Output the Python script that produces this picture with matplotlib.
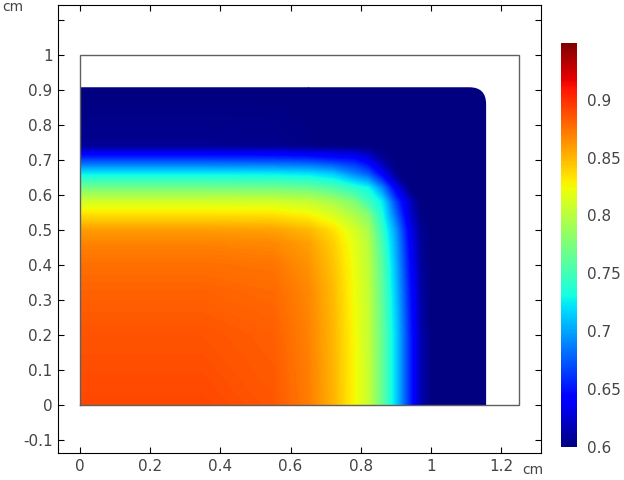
import numpy as np
import matplotlib
matplotlib.use('Agg')
import matplotlib.pyplot as plt
from matplotlib.cm import ScalarMappable
from matplotlib.colors import Normalize
from matplotlib.patches import PathPatch
from matplotlib.path import Path

# grid nodes, denser where the colours change fast
grid_x = [0, .35, .55, .65, .72, .78, .82, .86, .90, .94, .97, 1.0, 1.157]
grid_y = [0, .2, .32, .40, .46, .50, .54, .58, .62, .66, .70, .74, .908]

# field value per node, one row per grid_y
field = [
    [.891, .891, .885, .871, .851, .826, .806, .765, .715, .655, .615, .600, .600],
    [.886, .886, .882, .869, .850, .825, .805, .765, .715, .655, .615, .600, .600],
    [.881, .881, .878, .867, .848, .823, .804, .762, .710, .650, .612, .600, .600],
    [.876, .876, .874, .863, .845, .821, .802, .760, .705, .645, .610, .600, .600],
    [.869, .869, .867, .858, .841, .818, .799, .752, .700, .640, .608, .600, .600],
    [.859, .859, .857, .849, .834, .812, .793, .745, .695, .635, .607, .600, .600],
    [.836, .836, .835, .828, .815, .796, .779, .735, .680, .625, .603, .600, .600],
    [.811, .811, .810, .805, .793, .776, .750, .725, .665, .620, .600, .600, .600],
    [.771, .771, .770, .766, .756, .741, .730, .690, .635, .600, .600, .600, .600],
    [.726, .726, .725, .722, .713, .690, .675, .640, .605, .600, .600, .600, .600],
    [.666, .666, .665, .662, .655, .650, .635, .610, .600, .600, .600, .600, .600],
    [.606, .606, .605, .602, .600, .600, .600, .600, .600, .600, .600, .600, .600],
    [.600, .600, .600, .600, .600, .600, .600, .600, .600, .600, .600, .600, .600],
]

x_ticks = [0, 0.2, 0.4, 0.6, 0.8, 1, 1.2]
x_labels = ['0', '0.2', '0.4', '0.6', '0.8', '1', '1.2']
y_ticks = [-0.1, 0, 0.1, 0.2, 0.3, 0.4, 0.5, 0.6, 0.7, 0.8, 0.9, 1, 1.1]
y_labels = ['-0.1', '0', '0.1', '0.2', '0.3', '0.4', '0.5', '0.6', '0.7', '0.8', '0.9', '1', '']
bar_ticks = [0.6, 0.65, 0.7, 0.75, 0.8, 0.85, 0.9]
bar_labels = ['0.6', '0.65', '0.7', '0.75', '0.8', '0.85', '0.9']
v_min = 0.6
v_max = 0.949

W, H = 624, 480
txt = '#444444'

fig = plt.figure(figsize=(W / 100, H / 100), dpi=100)
ax = fig.add_axes([58 / W, 1 - 453 / H, (541 - 58) / W, (453 - 5) / H])
ax.set_xlim(-0.0627, 1.3134)
ax.set_ylim(-0.137, 1.143)

norm = Normalize(v_min, v_max)
levels = np.linspace(v_min, v_max, 256)
cs = ax.contourf(grid_x, grid_y, field, levels=levels, cmap='jet', norm=norm,
                 extend='both', antialiased=False)

# the domain has one rounded corner, top right
r, cx, cy = 0.048, grid_x[-1], grid_y[-1]
verts = [(0, 0), (cx, 0), (cx, cy - r), (cx, cy), (cx - r, cy), (0, cy), (0, 0)]
codes = [Path.MOVETO, Path.LINETO, Path.LINETO, Path.CURVE3, Path.CURVE3, Path.LINETO, Path.CLOSEPOLY]
clip = PathPatch(Path(verts, codes), transform=ax.transData, fc='none', ec='none')
ax.add_patch(clip)
cs.set_clip_path(clip)

# outer rectangle of the geometry
ax.plot([0, 1.25, 1.25, 0, 0], [0, 0, 1, 1, 0], color='#606060', lw=1.0, solid_joinstyle='miter')

ax.set_xticks(x_ticks, x_labels)
ax.set_yticks(y_ticks, y_labels)
ax.tick_params(direction='in', length=4.5, width=0.8, top=True, right=True,
               labelsize=11, labelcolor=txt, pad=4)
for s in ax.spines.values():
    s.set_linewidth(0.8)

fig.text(522 / W, 1 - 470 / H, 'cm', fontsize=10, color=txt, va='center', ha='left')
fig.text(2 / W, 1 - 7 / H, 'cm', fontsize=10, color=txt, va='center', ha='left')

cax = fig.add_axes([561 / W, 1 - 447 / H, 16 / W, (447 - 43) / H])
cb = fig.colorbar(ScalarMappable(norm=norm, cmap='jet'), cax=cax, ticks=bar_ticks)
cb.ax.set_yticklabels(bar_labels)
cb.ax.tick_params(length=0, labelsize=11, labelcolor=txt, pad=7)
cb.outline.set_visible(False)

fig.savefig('out.png', dpi=100)
